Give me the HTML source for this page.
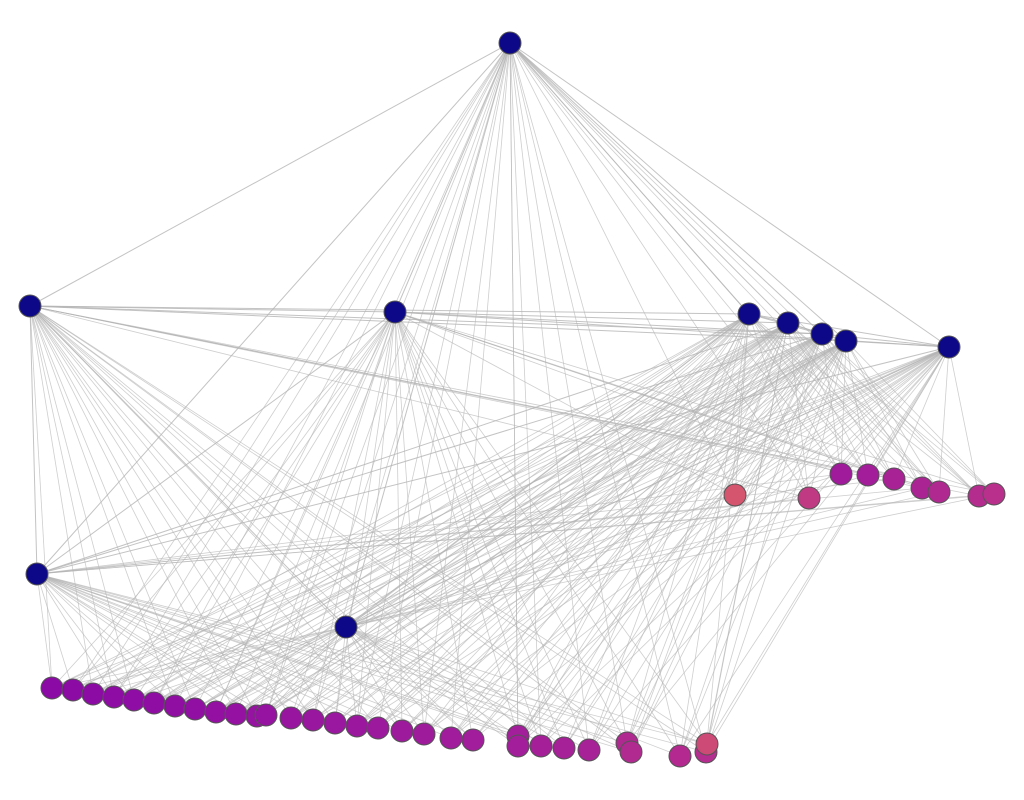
<!DOCTYPE html>
<html><head><meta charset="utf-8"><title>Network</title>
<style>html,body{margin:0;padding:0;background:#fff;}svg{display:block;}</style>
</head><body>
<svg id="chart" width="1024" height="800" viewBox="0 0 1024 800" xmlns="http://www.w3.org/2000/svg">
<g id="edges"></g>
<g id="nodes"></g>
</svg>
<script>
const hubX = [510,30,395,749,788,822,846,949,37,346];
const hubY = [43,306,312,314,323,334,341,347,574,627];
const leafX = [841,868,894,922,939,979,994,735,809,
  52,73,93,114,134,154,175,195,216,236,257,266,291,313,335,357,378,402,424,451,473,518,518,541,564,589,627,631,680,706,707];
const leafY = [474,475,479,488,492,496,494,495,498,
  688,690,694,697,700,703,706,709,712,714,716,715,718,720,723,726,728,731,734,738,740,736,746,746,748,750,743,752,756,752,744];
const leafColor = ['#a01a9c','#a31d9a','#a82296','#ab2494','#b02991','#b32c8e','#b8308b','#d5546e','#c03a83',
  '#8b0aa5','#8c0ba5','#8d0ba5','#8e0ca4','#8f0da4','#900da4','#910ea3','#920fa3','#9410a2','#9511a1','#9612a1','#9613a1','#9815a0','#99169f','#9a179f','#9b189e','#9c199e','#9d1a9d','#9e1b9c','#a01c9c','#a11d9b','#a31e9a','#a31e9a','#a51f99','#a62098','#a72197','#b02991','#b12a90','#b3298f','#b52d8e','#cd4a76'];
const svg = document.getElementById('chart');
const eg = document.getElementById('edges');
const ng = document.getElementById('nodes');
const NS = 'http://www.w3.org/2000/svg';
function line(x1,y1,x2,y2,w,o){
  const l = document.createElementNS(NS,'line');
  l.setAttribute('x1',x1);l.setAttribute('y1',y1);l.setAttribute('x2',x2);l.setAttribute('y2',y2);
  l.setAttribute('stroke','#b4b4b4');l.setAttribute('stroke-width',w);l.setAttribute('stroke-opacity',o);
  
  
  eg.appendChild(l);
}
// hub-hub edges
for(let i=0;i<hubX.length;i++){
  for(let j=i+1;j<hubX.length;j++){
    if((i+j)%3!==2 || i===0) line(hubX[i],hubY[i],hubX[j],hubY[j],1,0.8);
  }
}
// hub-leaf edges
for(let i=0;i<hubX.length;i++){
  for(let j=0;j<leafX.length;j++){
    if((i*7+j*3)%10<7) line(hubX[i],hubY[i],leafX[j],leafY[j],0.8,0.65);
  }
}
function node(x,y,c,name){
  const ci = document.createElementNS(NS,'circle');
  ci.setAttribute('cx',x);ci.setAttribute('cy',y);ci.setAttribute('r',11);
  ci.setAttribute('fill',c);ci.setAttribute('stroke','#555');ci.setAttribute('stroke-width',1);
  
  
  ng.appendChild(ci);
}
for(let j=0;j<leafX.length;j++) node(leafX[j],leafY[j],leafColor[j],'leaf-node');
for(let i=0;i<hubX.length;i++) node(hubX[i],hubY[i],'#0d0887','hub-node');
</script>
</body></html>
